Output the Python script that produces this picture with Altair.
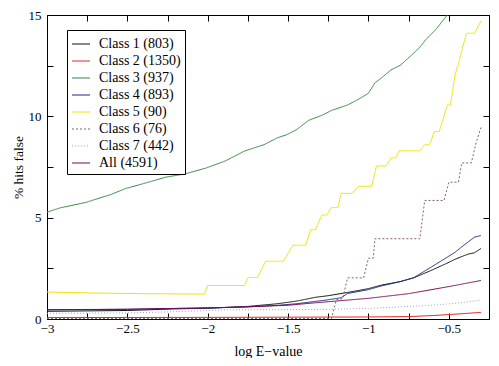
import altair as alt
import pandas as pd

series_names = ["Class 1 (803)", "Class 2 (1350)", "Class 3 (937)", "Class 4 (893)",
                "Class 5 (90)", "Class 6 (76)", "Class 7 (442)", "All (4591)"]
series_colors = ["#111111", "#e8261e", "#35883f", "#1b2c80",
                 "#f2e200", "#8a6060", "#9aa6c0", "#7a0a55"]
series_dash = [[1, 0], [1, 0], [1, 0], [1, 0], [1, 0], [2, 2], [1, 2], [1, 0]]

c1_x = [-3, -2.5, -2.2, -2.0, -1.75, -1.57, -1.45, -1.33, -1.25, -1.13, -1.0, -0.92, -0.8, -0.72, -0.62, -0.52, -0.46, -0.42, -0.38, -0.34, -0.30]
c1_y = [0.38, 0.42, 0.5, 0.53, 0.62, 0.75, 0.88, 1.07, 1.15, 1.31, 1.5, 1.67, 1.85, 2.03, 2.36, 2.72, 2.95, 3.08, 3.2, 3.27, 3.48]

c2_x = [-3, -2.0, -1.0, -0.75, -0.6, -0.5, -0.4, -0.3]
c2_y = [0.07, 0.08, 0.1, 0.12, 0.17, 0.22, 0.27, 0.33]

c3_x = [-3, -2.92, -2.76, -2.6, -2.51, -2.4, -2.26, -2.14, -2.01, -1.89, -1.77, -1.65, -1.57, -1.51, -1.45, -1.37, -1.29, -1.23, -1.13, -1.06, -1.0, -0.96, -0.92, -0.86, -0.80, -0.74, -0.68, -0.64, -0.58, -0.51, -0.47]
c3_y = [5.27, 5.48, 5.75, 6.15, 6.44, 6.68, 7.0, 7.16, 7.45, 7.8, 8.29, 8.6, 8.93, 9.09, 9.33, 9.81, 10.05, 10.29, 10.56, 10.85, 11.14, 11.65, 11.89, 12.29, 12.53, 12.96, 13.41, 13.81, 14.29, 15.0, 15.6]

c4_x = [-3, -2.5, -2.2, -2.0, -1.75, -1.57, -1.45, -1.33, -1.25, -1.17, -1.13, -1.0, -0.92, -0.8, -0.72, -0.62, -0.52, -0.46, -0.42, -0.38, -0.34, -0.30]
c4_y = [0.45, 0.48, 0.52, 0.54, 0.6, 0.67, 0.75, 0.87, 0.95, 1.05, 1.26, 1.45, 1.63, 1.85, 2.03, 2.51, 3.0, 3.3, 3.56, 3.8, 4.04, 4.12]

c5_x = [-3, -2.7, -2.4, -2.02, -2.0, -1.77, -1.75, -1.69, -1.64, -1.53, -1.47, -1.39, -1.36, -1.33, -1.29, -1.26, -1.23, -1.19, -1.17, -1.10, -1.06, -0.98, -0.95, -0.89, -0.86, -0.83, -0.81, -0.68, -0.65, -0.62, -0.59, -0.56, -0.54, -0.51, -0.49, -0.46, -0.44, -0.42, -0.39, -0.34, -0.30]
c5_y = [1.33, 1.28, 1.25, 1.23, 1.65, 1.65, 2.05, 2.05, 2.85, 2.85, 3.64, 3.64, 4.4, 4.4, 5.13, 5.13, 5.5, 5.5, 6.2, 6.2, 6.55, 6.55, 7.55, 7.55, 7.95, 7.95, 8.3, 8.3, 8.6, 8.6, 9.25, 9.25, 9.75, 10.55, 10.55, 12.1, 12.6, 13.25, 14.1, 14.1, 14.7]

c6_x = [-3, -1.23, -1.20, -1.16, -1.13, -1.03, -1.0, -0.97, -0.96, -0.68, -0.65, -0.53, -0.50, -0.44, -0.42, -0.36, -0.33, -0.30]
c6_y = [0.02, 0.02, 0.95, 1.0, 2.03, 2.03, 3.0, 3.0, 3.96, 3.96, 5.85, 5.85, 6.75, 6.75, 7.7, 7.7, 8.7, 9.45]

c7_x = [-3, -2.5, -2.2, -1.9, -1.3, -1.0, -0.8, -0.6, -0.45, -0.3]
c7_y = [0.28, 0.3, 0.36, 0.45, 0.47, 0.52, 0.6, 0.68, 0.78, 0.93]

all_x = [-3, -2.5, -2.0, -1.75, -1.5, -1.33, -1.0, -0.75, -0.5, -0.3]
all_y = [0.46, 0.48, 0.55, 0.6, 0.68, 0.8, 1.02, 1.25, 1.6, 1.9]

x_ticks = [-3 + 0.25 * i for i in range(12)]
y_ticks = [0, 2.5, 5, 7.5, 10, 12.5, 15]

xs = [c1_x, c2_x, c3_x, c4_x, c5_x, c6_x, c7_x, all_x]
ys = [c1_y, c2_y, c3_y, c4_y, c5_y, c6_y, c7_y, all_y]
rows = []
for name, sx, sy in zip(series_names, xs, ys):
    for i, (a, b) in enumerate(zip(sx, sy)):
        rows.append({"series": name, "x": a, "y": b, "i": i})
df = pd.DataFrame(rows)

FONT = "Liberation Serif"
xscale = alt.Scale(domain=[-3, -0.25], nice=False, zero=False)
yscale = alt.Scale(domain=[0, 15], nice=False)

legend_cfg = dict(title=None, orient="none", legendX=20, legendY=15,
                  fillColor="white", strokeColor="black", padding=4,
                  symbolType="stroke", symbolSize=324, symbolStrokeWidth=1.2,
                  labelFont=FONT, labelFontSize=14, labelColor="black",
                  labelOffset=8, rowPadding=-3.9)

lines = alt.Chart(df).mark_line(strokeWidth=1, clip=True).encode(
    x=alt.X("x:Q", scale=xscale, title="log E\u2212value",
            axis=alt.Axis(orient="bottom", values=x_ticks, offset=-6, tickSize=6, format="~g",
                          labelExpr="abs(datum.value*2 - round(datum.value*2)) < 0.001 ? datum.label : ''",
                          domain=False, grid=False, labelPadding=3, titlePadding=9,
                          labelFont=FONT, titleFont=FONT, labelFontSize=13, titleFontSize=14,
                          titleFontWeight="normal", labelColor="black", titleColor="black",
                          tickColor="black", labelFlush=False)),
    y=alt.Y("y:Q", scale=yscale, title="% hits false",
            axis=alt.Axis(orient="left", values=y_ticks, offset=-6, tickSize=6, format="~g",
                          labelExpr="datum.value % 5 == 0 ? datum.label : ''",
                          domain=False, grid=False, labelPadding=6, titlePadding=3,
                          labelFont=FONT, titleFont=FONT, labelFontSize=13, titleFontSize=13.5,
                          titleFontWeight="normal", labelColor="black", titleColor="black",
                          tickColor="black", labelFlush=False)),
    color=alt.Color("series:N", scale=alt.Scale(domain=series_names, range=series_colors),
                    legend=alt.Legend(**legend_cfg)),
    strokeDash=alt.StrokeDash("series:N", scale=alt.Scale(domain=series_names, range=series_dash),
                              legend=alt.Legend(**legend_cfg)),
    detail="series:N",
    order="i:Q",
)

ticks_layer = alt.Chart(df).mark_point(opacity=0).encode(
    x=alt.X("x:Q", scale=xscale, title=None,
            axis=alt.Axis(orient="top", values=x_ticks, offset=-6, tickSize=6, labels=False,
                          domain=False, grid=False, tickColor="black")),
    y=alt.Y("y:Q", scale=yscale, title=None,
            axis=alt.Axis(orient="right", values=y_ticks, offset=-6, tickSize=6, labels=False,
                          domain=False, grid=False, tickColor="black")),
)

chart = alt.layer(lines, ticks_layer).resolve_axis(x="independent", y="independent").properties(
    width=442, height=304,
    autosize=alt.AutoSizeParams(type="none"),
    padding={"left": 39, "top": 7, "right": 2, "bottom": 39},
    background="white",
).configure_view(stroke="black", strokeWidth=1)

chart.save("out.html", embed_options={"renderer": "svg", "actions": False})
